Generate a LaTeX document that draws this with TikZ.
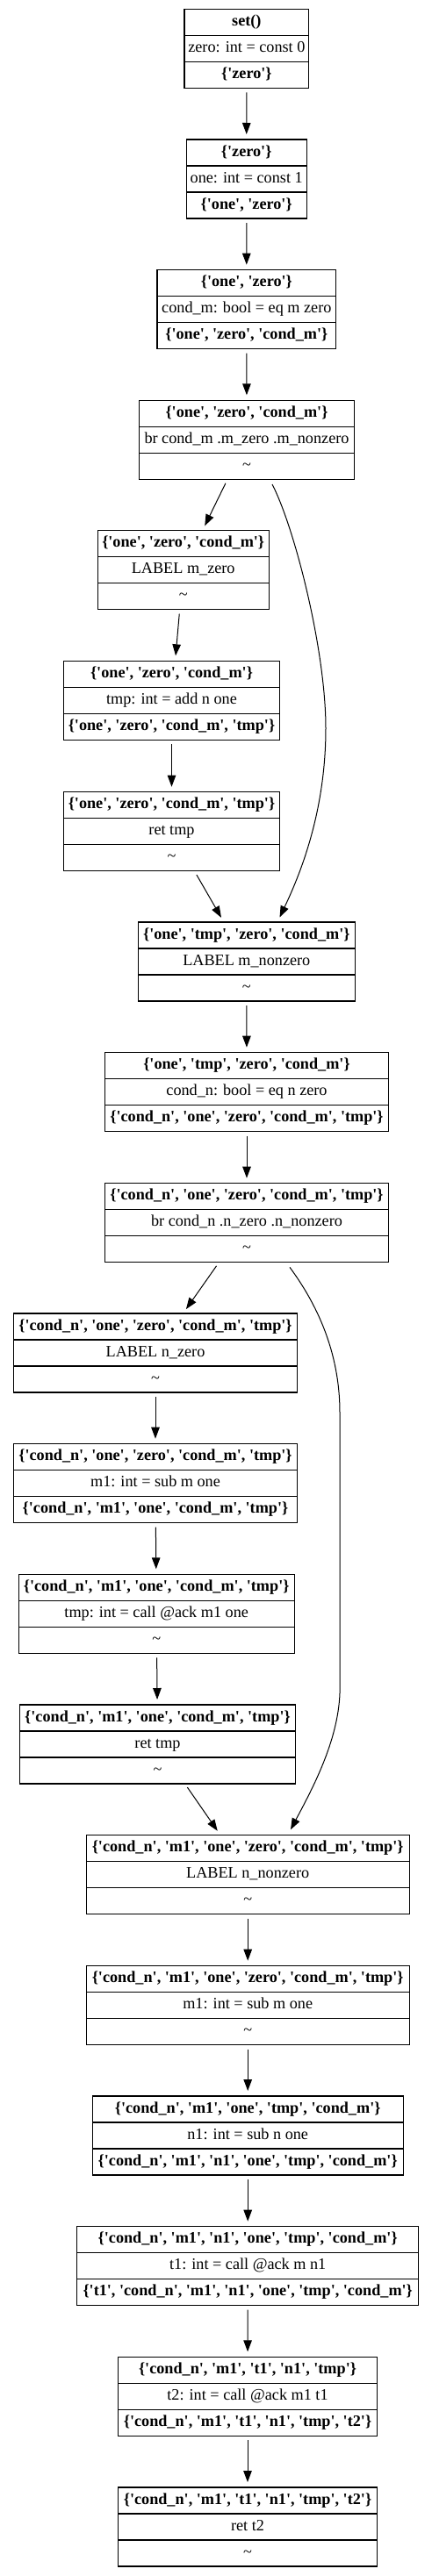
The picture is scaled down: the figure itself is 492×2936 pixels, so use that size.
\documentclass[tikz,border=0pt]{standalone}
\usepackage{fontspec}
\setmainfont{Liberation Serif}
\usetikzlibrary{arrows.meta}
\newcommand{\qv}[1]{\textquotesingle#1\textquotesingle}
\tikzset{
 recbox/.style={draw=black, line width=1.1pt, minimum height=90pt, inner sep=0pt, outer sep=0pt},
 recline/.style={draw=black, line width=1.1pt},
 rowtxt/.style={inner sep=0pt, font=\fontsize{18.2pt}{22pt}\selectfont, text height=12.5pt, text depth=4pt},
 rowbold/.style={rowtxt, font=\fontsize{18.2pt}{22pt}\selectfont\bfseries},
 edge/.style={draw=black, line width=1pt, -{Triangle[length=13pt,width=9.5pt]}, shorten <=5pt, shorten >=6pt},
 curvedge/.style={draw=black, line width=1pt, -{Triangle[length=13pt,width=9.5pt]}},
}
\newcommand{\recnode}[7]{%
 \node[recbox, minimum width=#4pt] (#1) at (#2,#3+45) {};
 \draw[recline] ([yshift=-30pt]#1.north west) -- ([yshift=-30pt]#1.north east);
 \draw[recline] ([yshift=30pt]#1.south west) -- ([yshift=30pt]#1.south east);
 \node[rowbold] (#1a) at ([yshift=-15pt]#1.north) {#5};
 \node[rowtxt] (#1b) at (#1.center) {#6};
 \node[rowtxt] (#1c) at ([yshift=15pt]#1.south) {#7};
}
\begin{document}
\begin{tikzpicture}[x=1pt,y=-1pt]
\useasboundingbox (0,0) rectangle (492,2936);
\fill[white] (0,0) rectangle (492,2936);
\recnode{n1}{280.85}{10.3}{141.7}{set()}{zero: int = const 0}{\textbf{\{\qv{zero}\}}}
\recnode{n2}{280.7}{159}{136.7}{\{\qv{zero}\}}{one: int = const 1}{\textbf{\{\qv{one}, \qv{zero}\}}}
\recnode{n3}{280.85}{307.7}{203.7}{\{\qv{one}, \qv{zero}\}}{cond\_m: bool = eq m zero}{\textbf{\{\qv{one}, \qv{zero}, \qv{cond\_m}\}}}
\recnode{n4}{281}{456.3}{244.6}{\{\qv{one}, \qv{zero}, \qv{cond\_m}\}}{br cond\_m .m\_zero .m\_nonzero}{\textasciitilde}
\recnode{n5}{208.7}{604.7}{194.7}{\{\qv{one}, \qv{zero}, \qv{cond\_m}\}}{LABEL m\_zero}{\textasciitilde}
\recnode{n6}{195.5}{753.3}{246.4}{\{\qv{one}, \qv{zero}, \qv{cond\_m}\}}{tmp: int = add n one}{\textbf{\{\qv{one}, \qv{zero}, \qv{cond\_m}, \qv{tmp}\}}}
\recnode{n7}{195.5}{902.7}{246.4}{\{\qv{one}, \qv{zero}, \qv{cond\_m}, \qv{tmp}\}}{ret tmp}{\textasciitilde}
\recnode{n8}{280.8}{1051}{247}{\{\qv{one}, \qv{tmp}, \qv{zero}, \qv{cond\_m}\}}{LABEL m\_nonzero}{\textasciitilde}
\recnode{n9}{281}{1199.7}{322.6}{\{\qv{one}, \qv{tmp}, \qv{zero}, \qv{cond\_m}\}}{cond\_n: bool = eq n zero}{\textbf{\{\qv{cond\_n}, \qv{one}, \qv{zero}, \qv{cond\_m}, \qv{tmp}\}}}
\recnode{n10}{281}{1348.7}{322.6}{\{\qv{cond\_n}, \qv{one}, \qv{zero}, \qv{cond\_m}, \qv{tmp}\}}{br cond\_n .n\_zero .n\_nonzero}{\textasciitilde}
\recnode{n11}{177}{1497}{322.6}{\{\qv{cond\_n}, \qv{one}, \qv{zero}, \qv{cond\_m}, \qv{tmp}\}}{LABEL n\_zero}{\textasciitilde}
\recnode{n12}{177}{1645.7}{322.6}{\{\qv{cond\_n}, \qv{one}, \qv{zero}, \qv{cond\_m}, \qv{tmp}\}}{m1: int = sub m one}{\textbf{\{\qv{cond\_n}, \qv{m1}, \qv{one}, \qv{cond\_m}, \qv{tmp}\}}}
\recnode{n13}{178.2}{1794.3}{314.3}{\{\qv{cond\_n}, \qv{m1}, \qv{one}, \qv{cond\_m}, \qv{tmp}\}}{tmp: int = call @ack m1 one}{\textasciitilde}
\recnode{n14}{179.5}{1943}{314.4}{\{\qv{cond\_n}, \qv{m1}, \qv{one}, \qv{cond\_m}, \qv{tmp}\}}{ret tmp}{\textasciitilde}
\recnode{n15}{282.2}{2091.7}{367.7}{\{\qv{cond\_n}, \qv{m1}, \qv{one}, \qv{zero}, \qv{cond\_m}, \qv{tmp}\}}{LABEL n\_nonzero}{\textasciitilde}
\recnode{n16}{282.2}{2240.7}{367.7}{\{\qv{cond\_n}, \qv{m1}, \qv{one}, \qv{zero}, \qv{cond\_m}, \qv{tmp}\}}{m1: int = sub m one}{\textasciitilde}
\recnode{n17}{282.2}{2389}{353.7}{\{\qv{cond\_n}, \qv{m1}, \qv{one}, \qv{tmp}, \qv{cond\_m}\}}{n1: int = sub n one}{\textbf{\{\qv{cond\_n}, \qv{m1}, \qv{n1}, \qv{one}, \qv{tmp}, \qv{cond\_m}\}}}
\recnode{n18}{282.2}{2537.7}{389}{\{\qv{cond\_n}, \qv{m1}, \qv{n1}, \qv{one}, \qv{tmp}, \qv{cond\_m}\}}{t1: int = call @ack m n1}{\textbf{\{\qv{t1}, \qv{cond\_n}, \qv{m1}, \qv{n1}, \qv{one}, \qv{tmp}, \qv{cond\_m}\}}}
\recnode{n19}{282}{2686.3}{294.6}{\{\qv{cond\_n}, \qv{m1}, \qv{t1}, \qv{n1}, \qv{tmp}\}}{t2: int = call @ack m1 t1}{\textbf{\{\qv{cond\_n}, \qv{m1}, \qv{t1}, \qv{n1}, \qv{tmp}, \qv{t2}\}}}
\recnode{n20}{282}{2835}{294.6}{\{\qv{cond\_n}, \qv{m1}, \qv{t1}, \qv{n1}, \qv{tmp}, \qv{t2}\}}{ret t2}{\textasciitilde}
% straight edges
\draw[edge] (n1) -- (n2);
\draw[edge] (n2) -- (n3);
\draw[edge] (n3) -- (n4);
\draw[edge] (n4) -- (n5);
\draw[edge] (n5) -- (n6);
\draw[edge] (n6) -- (n7);
\draw[edge] (n7) -- (n8);
\draw[edge] (n8) -- (n9);
\draw[edge] (n9) -- (n10);
\draw[edge] (n10) -- (n11);
\draw[edge] (n11) -- (n12);
\draw[edge] (n12) -- (n13);
\draw[edge] (n13) -- (n14);
\draw[edge] (n14) -- (n15);
\draw[edge] (n15) -- (n16);
\draw[edge] (n16) -- (n17);
\draw[edge] (n17) -- (n18);
\draw[edge] (n18) -- (n19);
\draw[edge] (n19) -- (n20);
% curved edges
\draw[curvedge] ([xshift=29pt,yshift=-5.7pt]n4.south) .. controls (335,600) and (371,740) .. (371,830)
  .. controls (371,920) and (345,990) .. ([xshift=37.7pt,yshift=5.5pt]n8.north);
\draw[curvedge] ([xshift=49pt,yshift=-5.7pt]n10.south) .. controls (360,1485) and (387,1540) .. (387,1610)
  -- (387,1930) .. controls (385,1985) and (355,2040) .. ([xshift=48.8pt,yshift=6.4pt]n15.north);
\end{tikzpicture}
\end{document}
